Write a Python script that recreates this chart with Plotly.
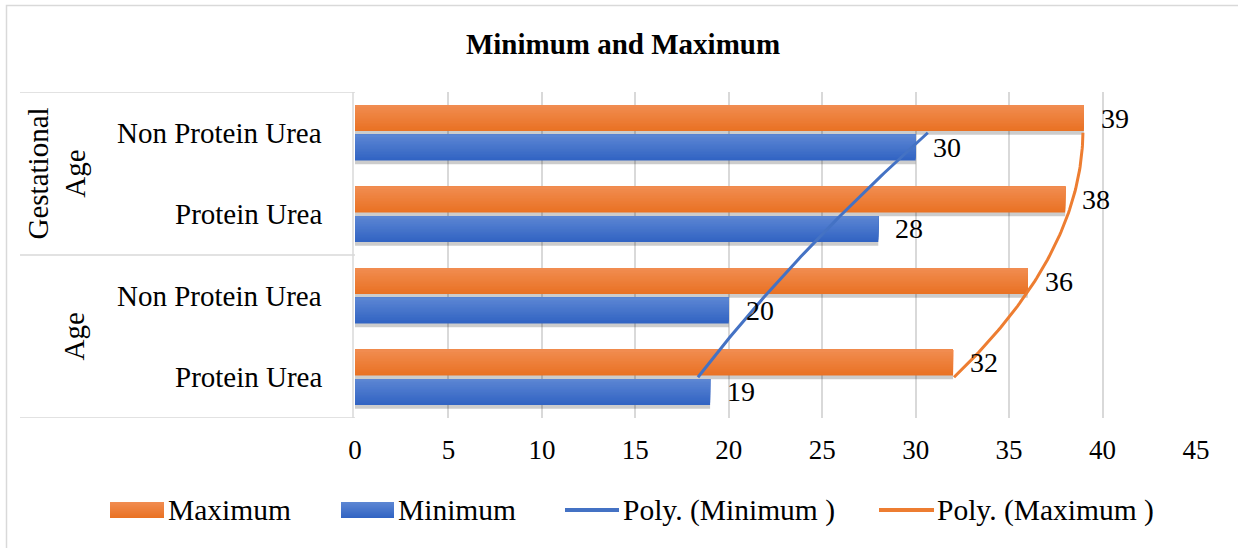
import numpy as np
import plotly.graph_objects as go

# ---------------- data ----------------
groups = ["Age", "Age", "Gestational<br>Age", "Gestational<br>Age"]
categories = ["Protein Urea", "Non Protein Urea", "Protein Urea", "Non Protein Urea"]
minimum = [19, 20, 28, 30]
maximum = [32, 36, 38, 39]
x_ticks = [0, 5, 10, 15, 20, 25, 30, 35, 40, 45]

# ---------------- style ----------------
FONT = "Liberation Serif, Times New Roman, serif"
ORANGE = "#ED7D31"
BLUE = "#4472C4"
ORANGE_TOP, ORANGE_BOT = (241, 140, 80), (233, 114, 36)
BLUE_TOP, BLUE_BOT = (92, 134, 211), (50, 100, 195)
GRID = "#D9D9D9"
W, H = 1238, 548
ML, MR, MT, MB = 355, 42, 92, 130
PW, PH = W - ML - MR, H - MT - MB


def px(xp):
    return (xp - ML) / PW


def py(yp):
    return (H - MB - yp) / PH


def mix(c_bot, c_top, f):
    return "rgb(%d,%d,%d)" % tuple(round(b + (t - b) * f) for b, t in zip(c_bot, c_top))


pos = np.arange(1, len(categories) + 1)

fig = go.Figure()

BAR_W = 0.32
series = [
    ("Minimum", minimum, -0.34, BLUE_BOT, BLUE_TOP),
    ("Maximum", maximum, 0.02, ORANGE_BOT, ORANGE_TOP),
]

# soft shadows beneath bars
for name, vals, off, cb, ct in series:
    fig.add_trace(go.Bar(
        y=pos, x=vals, orientation="h", name=name + " shadow",
        marker=dict(color="rgba(0,0,0,0.2)", line=dict(width=0)),
        offset=off - 0.045, width=BAR_W, showlegend=False, hoverinfo="skip",
    ))

# bars with a vertical gradient (light top, darker bottom)
NSTEP = 16
for name, vals, off, cb, ct in series:
    for k in range(NSTEP):
        f = k / (NSTEP - 1)
        lo = off + BAR_W * k / NSTEP
        fig.add_trace(go.Bar(
            y=pos, x=vals, orientation="h", name=name,
            marker=dict(color=mix(cb, ct, f), line=dict(width=0)),
            offset=lo, width=off + BAR_W - lo, showlegend=False,
            hoverinfo="skip" if k else None,
        ))

# polynomial (order 2) trendlines, as Excel does
t = np.linspace(pos[0], pos[-1], 80)
cmin = np.polyfit(pos, minimum, 2)
cmax = np.polyfit(pos, maximum, 2)
fig.add_trace(go.Scatter(
    x=np.polyval(cmin, t), y=t, mode="lines", name="Poly. (Minimum )",
    line=dict(color=BLUE, width=3), showlegend=False, hoverinfo="skip",
))
fig.add_trace(go.Scatter(
    x=np.polyval(cmax, t), y=t, mode="lines", name="Poly. (Maximum )",
    line=dict(color=ORANGE, width=3), showlegend=False, hoverinfo="skip",
))

annotations = []
# data labels
for p, vmin, vmax in zip(pos, minimum, maximum):
    annotations.append(dict(x=vmax, y=p + 0.18, xref="x", yref="y", text=str(vmax),
                            showarrow=False, xanchor="left", yanchor="middle", xshift=15,
                            font=dict(family=FONT, size=28, color="#000")))
    annotations.append(dict(x=vmin, y=p - 0.18, xref="x", yref="y", text=str(vmin),
                            showarrow=False, xanchor="left", yanchor="middle", xshift=15,
                            font=dict(family=FONT, size=28, color="#000")))

# category labels
for p, c in zip(pos, categories):
    annotations.append(dict(x=0, y=p, xref="paper", yref="y", text=c, showarrow=False,
                            xanchor="right", yanchor="middle", xshift=-31,
                            font=dict(family=FONT, size=29, color="#000")))

# group labels (rotated)
annotations.append(dict(x=px(56), y=3.5, xref="paper", yref="y", text=groups[2],
                        showarrow=False, textangle=-90, xanchor="center", yanchor="middle",
                        font=dict(family=FONT, size=29, color="#000")))
annotations.append(dict(x=px(73), y=1.5, xref="paper", yref="y", text=groups[0],
                        showarrow=False, textangle=-90, xanchor="center", yanchor="middle",
                        font=dict(family=FONT, size=29, color="#000")))

shapes = []
# outer chart border
shapes.append(dict(type="rect", xref="paper", yref="paper",
                   x0=px(6.5), x1=px(1300), y0=py(600), y1=py(5.5),
                   line=dict(color=GRID, width=1.5), fillcolor="rgba(0,0,0,0)", layer="below"))
# category table lines
for yv in [0.5, 2.5, 4.5]:
    shapes.append(dict(type="line", xref="paper", yref="y", x0=px(20), x1=px(355),
                       y0=yv, y1=yv, line=dict(color=GRID, width=1.5)))
shapes.append(dict(type="line", xref="paper", yref="y", x0=px(353), x1=px(353),
                   y0=0.5, y1=4.5, line=dict(color=GRID, width=1.5)))

# custom legend (Excel style wide swatches)
leg_y = 510
legend_items = [
    ("rect", (ORANGE_BOT, ORANGE_TOP), 110, 164, "Maximum", 166),
    ("rect", (BLUE_BOT, BLUE_TOP), 341, 394, "Minimum", 396),
    ("line", BLUE, 565, 619, "Poly. (Minimum )", 621),
    ("line", ORANGE, 879, 934, "Poly. (Maximum )", 935),
]
for kind, col, a, b, label, tx in legend_items:
    if kind == "rect":
        cb, ct = col
        for k in range(NSTEP):
            f = k / (NSTEP - 1)
            top = leg_y - 8
            bot = leg_y + 8 - 16 * k / NSTEP
            shapes.append(dict(type="rect", xref="paper", yref="paper",
                               x0=px(a), x1=px(b), y0=py(bot), y1=py(top),
                               fillcolor=mix(cb, ct, f), line=dict(width=0)))
    else:
        shapes.append(dict(type="line", xref="paper", yref="paper",
                           x0=px(a), x1=px(b), y0=py(leg_y), y1=py(leg_y),
                           line=dict(color=col, width=4)))
    annotations.append(dict(x=px(tx), y=py(leg_y), xref="paper", yref="paper", text=label,
                            showarrow=False, xanchor="left", yanchor="middle",
                            font=dict(family=FONT, size=29.5, color="#000")))

fig.update_layout(
    width=W, height=H,
    margin=dict(l=ML, r=MR, t=MT, b=MB),
    paper_bgcolor="white", plot_bgcolor="white",
    barmode="overlay",
    showlegend=False,
    title=dict(text="<b>Minimum and Maximum</b>", x=623 / W, xanchor="center",
               y=1 - 44 / H, yanchor="middle", yref="container",
               font=dict(family=FONT, size=29, color="#000")),
    xaxis=dict(range=[0, 45], tickvals=x_ticks, ticktext=[str(v) for v in x_ticks],
               showgrid=True, gridcolor=GRID, gridwidth=1.5, zeroline=False,
               showline=False, ticks="", ticklabelstandoff=13,
               tickfont=dict(family=FONT, size=27, color="#000"), fixedrange=True),
    yaxis=dict(range=[0.5, 4.5], showticklabels=False, showgrid=False, zeroline=False,
               showline=False, ticks="", fixedrange=True),
    annotations=annotations,
    shapes=shapes,
)

fig.write_html("out.html")
